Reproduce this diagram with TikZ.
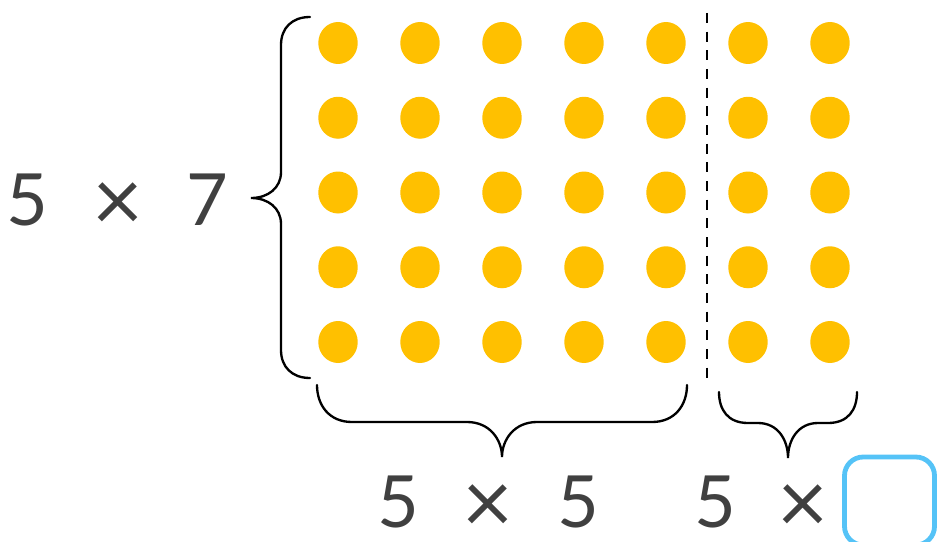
\documentclass[tikz,border=0pt]{standalone}
\usepackage{fontspec}
\setmainfont{Lato}
\usepackage{xcolor}
\usetikzlibrary{positioning}

\definecolor{dotyellow}{HTML}{FFC000}
\definecolor{textgray}{HTML}{404040}
\definecolor{boxblue}{HTML}{55C3F7}
\newcommand{\slot}[1]{\makebox[67.5pt]{#1}}
\newcommand{\bigtimes}{\raisebox{-4.5pt}[0pt][0pt]{\scalebox{1.22}{×}}}

\begin{document}
\begin{tikzpicture}[x=0.75pt, y=-0.75pt, font=\fontsize{54}{60}\selectfont\color{textgray}]
		\tikzstyle{dot} = [fill=dotyellow]
		\tikzstyle{brace} = [draw=black, line width=1.75pt, line cap=round]
		\tikzstyle{divider} = [draw=black, line width=2.2pt, dash pattern=on 7.5pt off 6.5pt]
		\tikzstyle{expr} = [inner sep=0pt, anchor=base]
		\tikzstyle{blank} = [draw=boxblue, line width=3.6pt, rounded corners=14pt, minimum width=67.5pt, minimum height=66pt, inner sep=0pt]

		\useasboundingbox (0,0) rectangle (938,542);

		% dots, 5 rows of 7
		\foreach \c in {0,...,6}
			\foreach \r in {0,...,4}
				\fill[dot] (338+82*\c, 43+74.75*\r) ellipse (14.8pt and 15.75pt);

		\draw[divider] (707,13) -- (707,378);

		% braces
		\draw[brace] (310,17) .. controls (292,17) and (281,28) .. (281,45) -- (281,172)
			.. controls (281,188) and (268,198) .. (251,198)
			.. controls (268,198) and (281,208) .. (281,224) -- (281,350)
			.. controls (281,367) and (292,378) .. (310,378);
		\draw[brace] (317,385) .. controls (317,405) and (329,422) .. (352,422) -- (467,422)
			.. controls (490,422) and (502,440) .. (502,457)
			.. controls (502,440) and (514,422) .. (537,422) -- (652,422)
			.. controls (675,422) and (687,405) .. (687,385);
		\draw[brace] (719,392) .. controls (719,410) and (728,423) .. (748,423) -- (758,423)
			.. controls (778,423) and (788,440) .. (788,458)
			.. controls (788,440) and (798,423) .. (818,423) -- (828,423)
			.. controls (848,423) and (857,410) .. (857,392);

		\node[expr]	at (117.5,225)	(whole)	{\slot{5}\slot{\bigtimes}\slot{7}};
		\node[expr]	at (488,527)	(first)	{\slot{5}\slot{\bigtimes}\slot{5}};
		\node[expr]	at (759,527)	(second)	{\makebox[66pt]{5}\makebox[66pt]{\bigtimes}};
		\node[blank]	at (889.5,501)	(ans)	{};
	\end{tikzpicture}
\end{document}
